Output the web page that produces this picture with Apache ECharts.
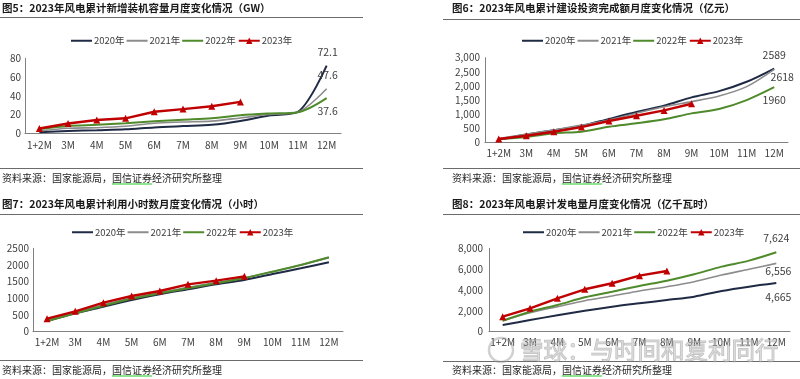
<!DOCTYPE html>
<html>
<head>
<meta charset="utf-8">
<script src="https://cdn.jsdelivr.net/npm/echarts@6/dist/echarts.min.js"></script>
<style>html,body{margin:0;padding:0;background:#fff;}#c{width:800px;height:379px;}</style>
</head>
<body>
<div id="c"></div>
<script>
// ---------- data ----------
const categories = ['1+2M','3M','4M','5M','6M','7M','8M','9M','10M','11M','12M'];
const seriesNames = ['2020年','2021年','2022年','2023年'];

// 图5 cumulative new wind capacity (GW)
const cap2020 = [1.0, 2.4, 3.3, 4.2, 6.3, 7.7, 9.0, 13.1, 19.0, 23.0, 72.1];
const cap2021 = [2.5, 5.4, 6.0, 7.5, 10.8, 12.0, 13.0, 16.4, 20.0, 22.6, 47.6];
const cap2022 = [4.5, 7.9, 9.1, 10.7, 12.9, 14.5, 16.0, 19.2, 21.1, 22.5, 37.6];
const cap2023 = [5.1, 10.4, 14.2, 16.0, 23.0, 25.8, 28.9, 33.5];

// 图6 cumulative investment (亿元)
const inv2020 = [110, 290, 440, 590, 840, 1085, 1305, 1600, 1820, 2150, 2618];
const inv2021 = [150, 300, 450, 620, 800, 1040, 1270, 1450, 1650, 1980, 2589];
const inv2022 = [120, 200, 330, 390, 565, 685, 825, 1035, 1190, 1505, 1960];
const inv2023 = [130, 245, 385, 550, 765, 950, 1140, 1375];

// 图7 cumulative utilisation hours (小时)
const hrs2020 = [320, 550, 750, 950, 1120, 1270, 1420, 1550, 1730, 1900, 2080];
const hrs2021 = [350, 580, 810, 1010, 1170, 1330, 1470, 1610, 1800, 2000, 2220];
const hrs2022 = [320, 550, 780, 990, 1150, 1300, 1450, 1610, 1800, 2000, 2230];
const hrs2023 = [390, 610, 870, 1070, 1220, 1420, 1530, 1660];

// 图8 cumulative generation (亿千瓦时)
const gen2020 = [640, 1120, 1575, 2015, 2400, 2725, 3040, 3360, 3905, 4320, 4665];
const gen2021 = [1050, 1825, 2400, 2975, 3425, 3905, 4320, 4800, 5440, 5990, 6556];
const gen2022 = [1055, 1920, 2560, 3300, 3840, 4385, 4895, 5510, 6240, 6815, 7624];
const gen2023 = [1440, 2245, 3205, 4070, 4645, 5375, 5825];

const titles = [
  '图5：2023年风电累计新增装机容量月度变化情况（GW）',
  '图6：2023年风电累计建设投资完成额月度变化情况（亿元）',
  '图7：2023年风电累计利用小时数月度变化情况（小时）',
  '图8：2023年风电累计发电量月度变化情况（亿千瓦时）'
];
const sourceText = '资料来源：国家能源局，国信证券经济研究所整理';
const watermarkText = '雪球：与时间和复利同行';

// ---------- styling / layout ----------
const FONT = "'Noto Sans CJK SC','Noto Sans',sans-serif";
const colors = ['#1f2a44', '#8c8c8c', '#4f8a2b', '#c00000'];
const widths = [2, 1.6, 2, 2.4];
const thousands = v => String(v).replace(/\B(?=(\d{3})+(?!\d))/g, ',');

const grids = [
  {left: 25, top: 58.3, width: 316, height: 75},
  {left: 485, top: 57.7, width: 303, height: 85},
  {left: 33, top: 248.3, width: 310, height: 83.4},
  {left: 489, top: 248.3, width: 301, height: 83.4}
];
const yCfg = [
  {max: 80, interval: 20, fmt: v => v, margin: 4},
  {max: 3000, interval: 500, fmt: thousands, margin: 5},
  {max: 2500, interval: 500, fmt: v => v, margin: 4},
  {max: 8000, interval: 2000, fmt: thousands, margin: 6}
];
const xMargin = [7, 6, 6, 6];

const panelData = [
  [cap2020, cap2021, cap2022, cap2023],
  [inv2020, inv2021, inv2022, inv2023],
  [hrs2020, hrs2021, hrs2022, hrs2023],
  [gen2020, gen2021, gen2022, gen2023]
];
// end-of-line value labels: [formatter, offset]
const endLabels = [
  [[v => v.toFixed(1), [1, -14]], [v => v.toFixed(1), [1, -14]], [v => v.toFixed(1), [1, 13]], null],
  [[v => String(v), [8, 8]], [v => String(v), [0, -14]], [v => String(v), [0, 13]], null],
  [null, null, null, null],
  [[thousands, [2, 14]], [thousands, [2, 8]], [thousands, [0, -14]], null]
];

const series = [];
panelData.forEach((set, g) => {
  set.forEach((data, s) => {
    const isRed = s === 3;
    const el = endLabels[g][s];
    const last = data[data.length - 1];
    series.push({
      name: seriesNames[s],
      type: 'line',
      xAxisIndex: g,
      yAxisIndex: g,
      data: data,
      smooth: isRed ? false : 0.3,
      symbol: isRed ? 'triangle' : 'none',
      symbolSize: isRed ? 7 : 0,
      showSymbol: isRed,
      color: colors[s],
      lineStyle: {color: colors[s], width: widths[s]},
      itemStyle: {color: colors[s]},
      label: {show: false},
      endLabel: el ? {
        show: true, formatter: () => el[0](last), distance: 0,
        align: 'center', verticalAlign: 'middle', offset: el[1],
        color: '#404040', fontSize: 10.5, fontFamily: FONT
      } : {show: false},
      emphasis: {disabled: true},
      animation: false
    });
  });
});

const LINE_ICON = 'path://M0,0H21V2H0Z';
const legendPos = [[71, 36], [522, 36], [72, 227.5], [523, 227.5]];

// header / footer decorations
const graphic = [];
const panelBox = [
  {x0: 0, x1: 363, tx: 2, ty: 8, tl: 17, fl: 168, fy: 178},
  {x0: 443, x1: 800, tx: 452, ty: 8, tl: 19, fl: 168, fy: 178},
  {x0: 0, x1: 363, tx: 2, ty: 204, tl: 214, fl: 360, fy: 370},
  {x0: 443, x1: 800, tx: 452, ty: 204, tl: 214, fl: 361, fy: 370}
];
panelBox.forEach((b, i) => {
  graphic.push({type: 'text', x: b.tx, y: b.ty, style: {text: titles[i], fill: '#1a1a1a', font: 'bold 10.5px ' + FONT, textVerticalAlign: 'middle'}});
  graphic.push({type: 'line', shape: {x1: b.x0, y1: b.tl + 0.5, x2: b.x1, y2: b.tl + 0.5}, style: {stroke: '#6b6b6b', lineWidth: 1}});
  graphic.push({type: 'line', shape: {x1: b.x0, y1: b.fl + 0.5, x2: b.x1, y2: b.fl + 0.5}, style: {stroke: '#6b6b6b', lineWidth: 1}});
  graphic.push({type: 'text', x: b.tx, y: b.fy, style: {text: sourceText, fill: '#262626', font: '10px ' + FONT, textVerticalAlign: 'middle'}});
  graphic.push({type: 'line', shape: {x1: b.tx + 110, y1: b.fy + 6, x2: b.tx + 150, y2: b.fy + 6}, style: {stroke: '#22cc22', lineWidth: 1}});
});
// watermark
graphic.push({type: 'circle', shape: {cx: 501, cy: 350, r: 12}, style: {fill: 'none', stroke: 'rgba(150,150,150,0.45)', lineWidth: 2.5}, z: 100});
graphic.push({type: 'text', x: 520, y: 350, style: {text: watermarkText, fill: 'rgba(200,200,200,0.5)', stroke: 'rgba(140,140,140,0.5)', lineWidth: 1, font: '23.5px ' + FONT, textVerticalAlign: 'middle'}, z: 100});

const option = {
  backgroundColor: '#fff',
  animation: false,
  textStyle: {fontFamily: FONT},
  grid: grids,
  xAxis: grids.map((g, i) => ({
    type: 'category', gridIndex: i, data: categories, boundaryGap: true,
    axisTick: {show: false},
    axisLine: {lineStyle: {color: '#808080', width: 1}},
    axisLabel: {fontSize: 10, color: '#404040', margin: xMargin[i], interval: 0, fontFamily: FONT}
  })),
  yAxis: grids.map((g, i) => ({
    type: 'value', gridIndex: i, min: 0, max: yCfg[i].max, interval: yCfg[i].interval,
    splitLine: {show: false},
    axisTick: {show: false},
    axisLine: {show: true, lineStyle: {color: '#808080', width: 1}},
    axisLabel: {fontSize: 10, color: '#404040', margin: yCfg[i].margin, formatter: yCfg[i].fmt, fontFamily: FONT}
  })),
  legend: legendPos.map(p => ({
    left: p[0], top: p[1], orient: 'horizontal', padding: 0,
    itemWidth: 21, itemHeight: 8, itemGap: 2,
    selectedMode: false,
    data: [
      {name: seriesNames[0], icon: LINE_ICON},
      {name: seriesNames[1], icon: LINE_ICON},
      {name: seriesNames[2], icon: LINE_ICON},
      {name: seriesNames[3]}
    ],
    textStyle: {fontSize: 9.5, color: '#404040', fontFamily: FONT, padding: [0, 0, 0, -3]}
  })),
  series: series,
  graphic: graphic
};

const chart = echarts.init(document.getElementById('c'), null, {renderer: 'canvas'});
chart.setOption(option);
</script>
</body>
</html>
